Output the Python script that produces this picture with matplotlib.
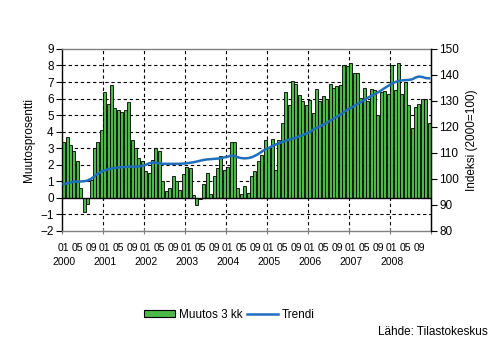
import numpy as np
import matplotlib.pyplot as plt
from matplotlib.patches import Patch
from matplotlib.lines import Line2D

plt.rcParams['font.family'] = ['Liberation Sans', 'DejaVu Sans']

years = ['2000', '2001', '2002', '2003', '2004', '2005', '2006', '2007', '2008']
month_labels = ['01', '05', '09']

# Muutos 3 kk (%), kuukausittain
muutos_2000 = [3.4, 3.7, 3.2, 2.8, 2.2, 0.6, -0.85, -0.4, 1.1, 3.0, 3.4, 4.1]
muutos_2001 = [6.4, 5.7, 6.8, 5.4, 5.3, 5.2, 5.3, 5.8, 3.5, 3.0, 2.4, 2.2]
muutos_2002 = [1.6, 1.5, 2.3, 3.0, 2.85, 1.0, 0.4, 0.6, 1.3, 1.0, 0.5, 1.45]
muutos_2003 = [1.85, 1.8, 0.15, -0.45, -0.1, 0.85, 1.5, 0.25, 1.3, 1.8, 2.55, 1.7]
muutos_2004 = [1.85, 3.4, 3.4, 0.6, 0.2, 0.7, 0.3, 1.3, 1.6, 2.2, 2.6, 3.5]
muutos_2005 = [3.1, 3.55, 1.7, 3.5, 4.5, 6.4, 5.6, 7.05, 6.9, 6.2, 5.85, 5.6]
muutos_2006 = [5.9, 5.15, 6.55, 5.85, 6.15, 5.95, 6.9, 6.65, 6.75, 6.8, 8.05, 7.95]
muutos_2007 = [8.15, 7.55, 7.55, 6.05, 6.65, 5.85, 6.6, 6.5, 5.0, 6.4, 6.45, 6.3]
muutos_2008 = [8.05, 6.5, 8.15, 6.25, 7.0, 5.6, 4.2, 5.5, 5.7, 5.95, 5.95, 4.5]

# Trendi, indeksi 2000=100
trendi_2000 = [98.0, 98.3, 98.6, 98.9, 99.0, 99.0, 99.1, 99.4, 100.0, 101.0, 102.0, 102.8]
trendi_2001 = [103.3, 103.7, 104.0, 104.2, 104.4, 104.5, 104.6, 104.7, 104.7, 104.7, 104.8, 105.0]
trendi_2002 = [105.4, 106.0, 106.3, 106.2, 106.0, 105.8, 105.8, 105.8, 105.8, 105.8, 105.8, 105.9]
trendi_2003 = [106.0, 106.2, 106.4, 106.7, 107.0, 107.3, 107.5, 107.6, 107.7, 107.8, 108.0, 108.3]
trendi_2004 = [108.5, 109.0, 108.8, 108.3, 108.0, 107.9, 108.0, 108.3, 108.9, 109.6, 110.5, 111.4]
trendi_2005 = [111.9, 112.6, 113.2, 113.7, 114.2, 114.7, 115.1, 115.5, 115.9, 116.4, 116.9, 117.4]
trendi_2006 = [118.0, 118.9, 119.6, 120.2, 120.9, 121.6, 122.4, 123.2, 124.0, 124.8, 125.7, 126.6]
trendi_2007 = [127.3, 128.0, 128.8, 129.6, 130.4, 131.2, 131.9, 132.6, 133.3, 134.1, 135.0, 135.8]
trendi_2008 = [136.6, 137.2, 137.7, 137.9, 138.0, 138.1, 138.3, 139.0, 139.4, 139.2, 138.8, 138.7]

muutos = (muutos_2000 + muutos_2001 + muutos_2002 + muutos_2003 + muutos_2004
          + muutos_2005 + muutos_2006 + muutos_2007 + muutos_2008)
trendi = (trendi_2000 + trendi_2001 + trendi_2002 + trendi_2003 + trendi_2004
          + trendi_2005 + trendi_2006 + trendi_2007 + trendi_2008)

green = '#4cb848'
blue = '#1f6fbd'
n = len(muutos)
x = np.arange(n)

fig = plt.figure(figsize=(5.04, 3.40), dpi=100)
ax = fig.add_axes([0.123, 0.321, 0.732, 0.535])

# ruudukko
for v in [-1, 1, 2, 3, 4, 5, 6, 7, 8]:
    ax.axhline(v, color='black', lw=0.8, ls=(0, (3, 2.5)), zorder=1)
for k in range(1, len(years)):
    ax.axvline(12 * k - 0.5, color='black', lw=0.8, ls=(0, (3, 2.5)), zorder=1)

ax.bar(x, muutos, width=0.88, color=green, edgecolor='black', linewidth=0.6, zorder=2)
ax.axhline(0, color='black', lw=1.0, zorder=3)

ax.set_xlim(-0.5, n - 0.5)
ax.set_ylim(-2, 9)
ax.set_yticks(range(-2, 10))
ax.tick_params(axis='y', direction='out', length=4, width=0.8, labelsize=8.5, pad=2)

# kuukausi- ja vuosiotsikot
pos = [12 * k + m for k in range(len(years)) for m in (0, 4, 8)]
ax.set_xticks(pos, month_labels * len(years))
ax.tick_params(axis='x', length=0, labelsize=7.5, pad=9)
ax.set_xticks([12 * k - 0.5 for k in range(len(years) + 1)], minor=True)
ax.tick_params(axis='x', which='minor', direction='inout', length=5, width=0.8, color='#808080')
for k, yr in enumerate(years):
    ax.text(12 * k, -0.17, yr, transform=ax.get_xaxis_transform(),
            ha='center', va='center', fontsize=7.5)

for s in ['top', 'bottom']:
    ax.spines[s].set_color('#808080')
    ax.spines[s].set_linewidth(1.0)
ax.spines['left'].set_linewidth(1.0)
ax.set_ylabel('Muutosprosentti', fontsize=8.5, labelpad=4)

ax2 = ax.twinx()
ax2.plot(x, trendi, color=blue, lw=1.8, zorder=4)
ax2.set_ylim(80, 150)
ax2.set_yticks(range(80, 151, 10))
ax2.tick_params(axis='y', direction='out', length=4, width=0.8, labelsize=8.5, pad=2)
ax2.spines['right'].set_linewidth(1.0)
ax2.spines['top'].set_visible(False)
ax2.spines['bottom'].set_visible(False)
ax2.spines['left'].set_visible(False)
ax2.set_ylabel('Indeksi (2000=100)', fontsize=8.5, labelpad=5)

handles = [Patch(facecolor=green, edgecolor='black', linewidth=0.8),
           Line2D([0], [0], color=blue, lw=1.8)]
fig.legend(handles, ['Muutos 3 kk', 'Trendi'], loc='center',
           bbox_to_anchor=(0.455, 0.074), ncol=2, frameon=False, fontsize=8.5,
           handlelength=2.6, handleheight=0.6, handletextpad=0.3, columnspacing=0.4)

fig.text(0.968, 0.024, 'Lähde: Tilastokeskus', ha='right', va='center', fontsize=8.5)

fig.savefig('out.png', dpi=100)
